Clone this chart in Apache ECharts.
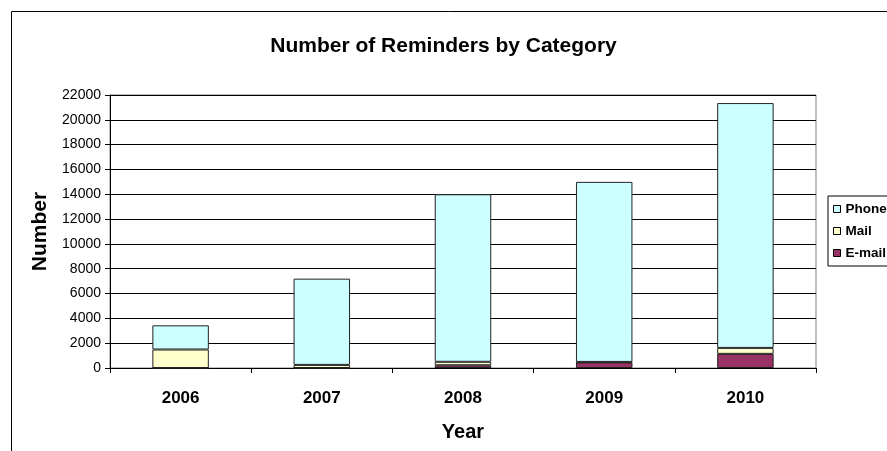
<!DOCTYPE html>
<html>
<head>
<meta charset="utf-8">
<script src="https://cdn.jsdelivr.net/npm/echarts@6/dist/echarts.min.js"></script>
<style>
  html, body { margin: 0; padding: 0; background: #fff; }
  #chart { width: 887px; height: 451px; }
</style>
</head>
<body>
<div id="chart"></div>
<script>
// Reminder counts per year, split by channel
const years = ['2006', '2007', '2008', '2009', '2010'];
const emailCounts = [0, 0, 220, 450, 1140];
const mailCounts = [1490, 250, 280, 40, 480];
const phoneCounts = [1950, 6950, 13500, 14510, 19730];
const yTicks = { min: 0, max: 22000, step: 2000 };

const font = 'Liberation Sans, Arial, Helvetica, sans-serif';
const barBorder = { borderColor: '#222', borderWidth: 1 };

const chart = echarts.init(document.getElementById('chart'), null, { renderer: 'canvas' });

chart.setOption({
  backgroundColor: '#fff',
  animation: false,
  textStyle: { fontFamily: font, color: '#000' },
  graphic: [{
    type: 'rect',
    left: 9,
    top: 9,
    z: -10,
    shape: { width: 2000, height: 2000 },
    style: { fill: 'none', stroke: '#000', lineWidth: 1 }
  }],
  title: {
    text: 'Number of Reminders by Category',
    left: 'center',
    top: 31,
    textStyle: { fontFamily: font, fontSize: 21, fontWeight: 'bold', color: '#000' }
  },
  legend: {
    orient: 'vertical',
    left: 828,
    top: 196,
    data: ['Phone', 'Mail', 'E-mail'],
    icon: 'rect',
    itemWidth: 7,
    itemHeight: 7,
    itemGap: 8,
    padding: [6, 30, 6, 5],
    borderColor: '#000',
    borderWidth: 1,
    itemStyle: { borderColor: '#000', borderWidth: 1 },
    textStyle: { fontFamily: font, fontSize: 13.5, fontWeight: 'bold', color: '#000' }
  },
  grid: {
    left: 110,
    right: 71,
    top: 95,
    bottom: 83,
    show: true,
    borderColor: '#808080',
    borderWidth: 1,
    backgroundColor: '#fff'
  },
  xAxis: {
    type: 'category',
    data: years,
    name: 'Year',
    nameLocation: 'middle',
    nameGap: 54,
    nameTextStyle: { fontFamily: font, fontSize: 20, fontWeight: 'bold', color: '#000' },
    axisLine: { lineStyle: { color: '#000', width: 1 } },
    axisTick: { show: true, alignWithLabel: false, length: 5, lineStyle: { color: '#000' } },
    axisLabel: { fontFamily: font, fontSize: 17, fontWeight: 'bold', color: '#000', margin: 22 },
    splitLine: { show: false }
  },
  yAxis: {
    type: 'value',
    min: yTicks.min,
    max: yTicks.max,
    interval: yTicks.step,
    name: 'Number',
    nameLocation: 'middle',
    nameGap: 58,
    nameRotate: 90,
    nameTextStyle: { fontFamily: font, fontSize: 21, fontWeight: 'bold', color: '#000' },
    axisLine: { show: true, lineStyle: { color: '#000', width: 1 } },
    axisTick: { show: true, length: 5, lineStyle: { color: '#000' } },
    axisLabel: {
      fontFamily: font, fontSize: 14, color: '#000', margin: 9,
      formatter: (v) => String(v)
    },
    splitLine: { show: true, lineStyle: { color: '#000', width: 1 } }
  },
  series: [
    {
      name: 'E-mail',
      type: 'bar',
      stack: 'total',
      barWidth: '40%',
      data: emailCounts,
      itemStyle: Object.assign({ color: '#993366' }, barBorder)
    },
    {
      name: 'Mail',
      type: 'bar',
      stack: 'total',
      barWidth: '40%',
      data: mailCounts,
      itemStyle: Object.assign({ color: '#FFFFCC' }, barBorder)
    },
    {
      name: 'Phone',
      type: 'bar',
      stack: 'total',
      barWidth: '40%',
      data: phoneCounts,
      itemStyle: Object.assign({ color: '#CCFFFF' }, barBorder)
    }
  ]
});
</script>
</body>
</html>
